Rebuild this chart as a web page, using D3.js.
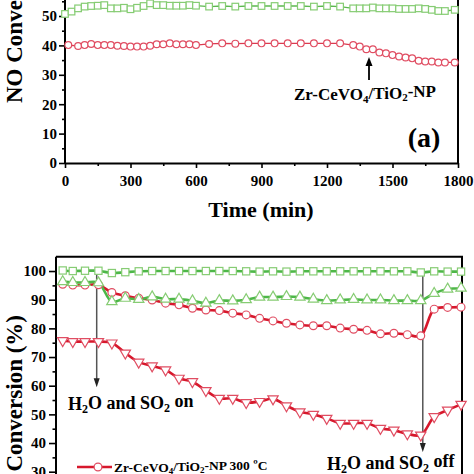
<!DOCTYPE html>
<html><head><meta charset="utf-8">
<script src="https://cdn.jsdelivr.net/npm/d3@7"></script>
<style>
body{margin:0;background:#fff}
svg{display:block}
text{font-family:"Liberation Serif","Times New Roman",serif;font-weight:bold;fill:#000}
</style>
</head><body><div id="chart"></div>
<script>
// ---------- Panel (a) data ----------
const aGreenTime = [0,30,60,90,120,150,180,210,240,270,300,330,360,390,420,450,480,510,540,570,600,
  660,720,780,840,900,960,1020,1080,1140,1200,1260,
  1320,1350,1380,1410,1440,1470,1500,1530,1560,1590,1620,1650,1680,1710,1740,1785];
const aGreenValue = [50.7,51.5,52.6,53.2,53.4,53.5,53.7,52.6,52.6,52.8,52.3,52.8,53.4,54.3,53.7,53.7,53.5,53.5,53.5,53.7,53.5,
  53.2,53.4,53.2,53.4,53.4,53.4,53.4,53.4,53.2,53.4,53.2,
  52.6,52.6,52.6,52.9,52.6,52.6,52.6,52.4,52.4,52.4,52.6,52.4,52.1,51.7,51.7,52.1];
const aRedTime = [15,60,90,120,150,180,210,240,270,300,330,360,390,420,450,480,510,540,570,600,
  660,720,780,840,900,960,1020,1080,1140,1200,1260,
  1320,1350,1380,1410,1440,1470,1500,1530,1560,1590,1620,1650,1680,1710,1740,1785];
const aRedValue = [40.1,39.8,40.1,40.5,40.1,40.1,40.1,39.9,39.8,39.6,39.6,39.6,39.9,40.4,40.4,40.7,40.4,40.4,40.4,40.1,
  40.5,40.7,40.6,40.7,40.7,40.7,40.7,40.7,40.7,40.7,40.7,
  40.1,39.6,38.7,38.7,37.6,37.3,36.7,36.2,35.9,35.6,34.8,34.5,34.5,34.2,34.2,34.2];
const aXTicks = [0,300,600,900,1200,1500,1800];
const aYTicks = [0,10,20,30,40,50];

// ---------- Panel (b) data ----------
const bTime = [0.34,1.09,2,3,4,5,6,7,8,9,10,11,12,13,14,15,16,17,18,19,20,21,22,23,24,25,26,27,28,29,30];
const bGreenSquare = [100.2,100,100.1,100.1,99.3,99.6,99.9,100,100,100,100,100,100,100,99.9,99.8,99.9,99.8,99.9,99.9,99.9,99.9,99.9,99.9,99.9,99.9,99.9,99.5,99.9,99.8,99.8];
const bGreenTriangle = [96.3,96.0,96.0,95.9,89.3,90.5,90.1,91.0,90.2,90.2,89.6,88.8,89.7,89.6,90.0,90.9,90.9,91.1,90.9,90.2,89.7,89.9,90.1,89.9,89.9,89.7,89.7,89.7,92.2,93.7,94.0];
const bRedCircle = [95.4,95.1,95.1,95.2,92.5,91.4,90.5,89.9,88.8,88.2,87.0,86.4,86.2,85.3,84.7,83.5,82.6,81.8,81.2,80.9,80.9,80.1,79.7,79.3,78.1,78.3,77.8,77.4,86.7,87.3,87.4];
const bRedDown = [75.7,75.4,75.4,75.4,74.9,71.4,68.2,66.9,65.5,62.6,61.4,58.3,55.6,55.6,54.1,54.5,55.4,53.0,50.9,50.0,48.6,46.9,46.9,46.9,45.1,44.5,43.2,42.8,49.2,51.5,53.5];
const bYTicks = [30,40,50,60,70,80,90,100];
const bOnTime = 2.87, bOffTime = 27.15;
const legendLabel = ["Zr-CeVO", "4", "/TiO", "2", "-NP 300 ºC"];

// ---------- colours ----------
const RED_LINE = "#d7182c", RED_MK = "#e04d62";
const GREEN_LINE = "#4db748", GREEN_MK = "#86cc73";

const W = 474, H = 474;
const svg = d3.select("#chart").append("svg").attr("width", W).attr("height", H);

function styleAxis(g, fs) {
  g.selectAll("path.domain").attr("stroke", "#000").attr("stroke-width", 2);
  g.selectAll(".tick line").attr("stroke", "#000").attr("stroke-width", 1.6);
  g.selectAll(".tick text").attr("font-size", fs).attr("font-family", '"Liberation Serif","Times New Roman",serif').attr("font-weight", "bold").attr("fill", "#000");
}
function subText(sel, parts, subSize) {
  parts.forEach((p, i) => {
    const sub = i % 2 === 1;
    sel.append("tspan").text(p)
      .attr("font-size", sub ? subSize : null)
      .attr("dy", sub ? "0.25em" : (i > 0 ? "-0.25em" : null));
  });
}
const fmt = d3.format("d");

// ================= Panel (a) =================
const xA = d3.scaleLinear().domain([0, 1800]).range([65, 458]);
const yA = d3.scaleLinear().domain([0, 100]).range([163, -131]);

const gA = svg.append("g");
gA.append("g").attr("transform", "translate(0,163)")
  .call(d3.axisBottom(xA).tickValues(d3.range(150, 1800, 300)).tickSize(3).tickFormat(""))
  .call(g => { g.select(".domain").remove(); g.selectAll("line").attr("stroke", "#000").attr("stroke-width", 1.6); });
gA.append("g").attr("transform", "translate(65,0)")
  .call(d3.axisLeft(yA).tickValues(d3.range(5, 60, 10)).tickSize(3).tickFormat(""))
  .call(g => { g.select(".domain").remove(); g.selectAll("line").attr("stroke", "#000").attr("stroke-width", 1.6); });
const axA_x = gA.append("g").attr("transform", "translate(0,163)")
  .call(d3.axisBottom(xA).tickValues(aXTicks).tickFormat(fmt).tickSize(5).tickSizeOuter(0).tickPadding(7));
styleAxis(axA_x, 15);
const axA_y = gA.append("g").attr("transform", "translate(65,0)")
  .call(d3.axisLeft(yA).tickValues(aYTicks).tickFormat(fmt).tickSize(6).tickSizeOuter(0).tickPadding(2));
axA_y.select("path.domain").attr("d", "M0,-140V163");
styleAxis(axA_y, 15);
gA.append("line").attr("x1", xA(1800)).attr("x2", xA(1800)).attr("y1", -140).attr("y2", 163)
  .attr("stroke", "#000").attr("stroke-width", 2);

const lineA = d3.line().x(d => xA(d[0])).y(d => yA(d[1]));
const aGreen = aGreenTime.map((t, i) => [t, aGreenValue[i]]);
const aRed = aRedTime.map((t, i) => [t, aRedValue[i]]);
gA.append("path").datum(aGreen).attr("d", lineA).attr("fill", "none").attr("stroke", "#5cb84f").attr("stroke-width", 1.3);
gA.append("g").selectAll("rect").data(aGreen).join("rect")
  .attr("x", d => xA(d[0]) - 3.3).attr("y", d => yA(d[1]) - 3.3).attr("width", 6.6).attr("height", 6.6)
  .attr("fill", "#fff").attr("stroke", GREEN_MK).attr("stroke-width", 1.2);
gA.append("path").datum(aRed).attr("d", lineA).attr("fill", "none").attr("stroke", "#dc3a50").attr("stroke-width", 1.3);
gA.append("g").selectAll("circle").data(aRed).join("circle")
  .attr("cx", d => xA(d[0])).attr("cy", d => yA(d[1])).attr("r", 3.4)
  .attr("fill", "#fff").attr("stroke", RED_MK).attr("stroke-width", 1.2);

gA.append("text").attr("transform", "translate(22,103) rotate(-90)").attr("font-size", 23).text("NO Conversion (%)");
gA.append("text").attr("x", 261).attr("y", 217).attr("text-anchor", "middle").attr("font-size", 22).text("Time (min)");
gA.append("text").attr("x", 424).attr("y", 147).attr("text-anchor", "middle").attr("font-size", 28).text("(a)");
const annA = gA.append("text").attr("x", 365).attr("y", 100).attr("text-anchor", "middle").attr("font-size", 17);
subText(annA, ["Zr-CeVO", "4", "/TiO", "2", "-NP"], 11);
gA.append("line").attr("x1", 369).attr("x2", 369).attr("y1", 80).attr("y2", 64).attr("stroke", "#000").attr("stroke-width", 1.8);
gA.append("path").attr("d", "M369,57 L365.5,66 L372.5,66 Z").attr("fill", "#000");

// ================= Panel (b) =================
const xB = d3.scaleLinear().domain([-0.16, 30.07]).range([56, 462]);
const yB = d3.scaleLinear().domain([0, 105]).range([557.7, 256.7]);

const gB = svg.append("g");
gB.append("g").attr("transform", "translate(56,0)")
  .call(d3.axisLeft(yB).tickValues(d3.range(25, 105, 10)).tickSize(3.5).tickFormat(""))
  .call(g => { g.select(".domain").remove(); g.selectAll("line").attr("stroke", "#000").attr("stroke-width", 1.6); });
const axB_y = gB.append("g").attr("transform", "translate(56,0)")
  .call(d3.axisLeft(yB).tickValues(bYTicks).tickFormat(fmt).tickSize(7).tickSizeOuter(0).tickPadding(3));
axB_y.select("path.domain").attr("d", "M0,256.7V560");
styleAxis(axB_y, 15);
gB.append("path").attr("d", `M56,${yB(105)}H462V560`).attr("fill", "none").attr("stroke", "#000").attr("stroke-width", 2);

const curveB = d3.line().x(d => xB(d[0])).y(d => yB(d[1])).curve(d3.curveCatmullRom.alpha(0.5));
function series(values) { return bTime.map((t, i) => [t, values[i]]); }
const sq = series(bGreenSquare), tu = series(bGreenTriangle), rc = series(bRedCircle), td = series(bRedDown);

gB.append("line").attr("x1", xB(bOnTime)).attr("x2", xB(bOnTime)).attr("y1", yB(100.3)).attr("y2", yB(61))
  .attr("stroke", "#555").attr("stroke-width", 1.5);
gB.append("path").attr("d", `M${xB(bOnTime)},${yB(59.5)} l-3,-9 h6 Z`).attr("fill", "#222");
gB.append("line").attr("x1", xB(bOffTime)).attr("x2", xB(bOffTime)).attr("y1", yB(100.3)).attr("y2", yB(39))
  .attr("stroke", "#555").attr("stroke-width", 1.5);
gB.append("path").attr("d", `M${xB(bOffTime)},${yB(36.9)} l-3,-9 h6 Z`).attr("fill", "#222");

function drawLine(data, color) {
  gB.append("path").datum(data).attr("d", curveB).attr("fill", "none").attr("stroke", color).attr("stroke-width", 2.6);
}
drawLine(td, RED_LINE);
drawLine(rc, RED_LINE);
drawLine(tu, GREEN_LINE);
drawLine(sq, GREEN_LINE);

const triUp = d3.symbol().type(d3.symbolTriangle).size(46);
gB.append("g").selectAll("path").data(td).join("path").attr("d", triUp)
  .attr("transform", d => `translate(${xB(d[0])},${yB(d[1])}) rotate(180)`)
  .attr("fill", "#fff").attr("stroke", RED_MK).attr("stroke-width", 1.2);
gB.append("g").selectAll("circle").data(rc).join("circle")
  .attr("cx", d => xB(d[0])).attr("cy", d => yB(d[1])).attr("r", 3.9)
  .attr("fill", "#fff").attr("stroke", RED_MK).attr("stroke-width", 1.2);
gB.append("g").selectAll("path").data(tu).join("path").attr("d", triUp)
  .attr("transform", d => `translate(${xB(d[0])},${yB(d[1])})`)
  .attr("fill", "#fff").attr("stroke", GREEN_MK).attr("stroke-width", 1.2);
gB.append("g").selectAll("rect").data(sq).join("rect")
  .attr("x", d => xB(d[0]) - 3.6).attr("y", d => yB(d[1]) - 3.6).attr("width", 7.2).attr("height", 7.2)
  .attr("fill", "#fff").attr("stroke", GREEN_MK).attr("stroke-width", 1.2);

gB.append("text").attr("transform", "translate(22,315) rotate(-90)").attr("text-anchor", "end").attr("font-size", 23).text("NO Conversion (%)");
const onT = gB.append("text").attr("x", 68).attr("y", 410).attr("font-size", 18);
subText(onT, ["H", "2", "O and SO", "2", " on"], 12);
const offT = gB.append("text").attr("x", 327).attr("y", 470).attr("font-size", 18);
subText(offT, ["H", "2", "O and SO", "2", " off"], 12);

gB.append("line").attr("x1", 77).attr("x2", 112).attr("y1", 467).attr("y2", 467).attr("stroke", RED_LINE).attr("stroke-width", 2.6);
gB.append("circle").attr("cx", 98).attr("cy", 467).attr("r", 3.9).attr("fill", "#fff").attr("stroke", RED_MK).attr("stroke-width", 1.2);
const lg = gB.append("text").attr("x", 114).attr("y", 472).attr("font-size", 13.5);
subText(lg, legendLabel, 9);
</script>
</body></html>
